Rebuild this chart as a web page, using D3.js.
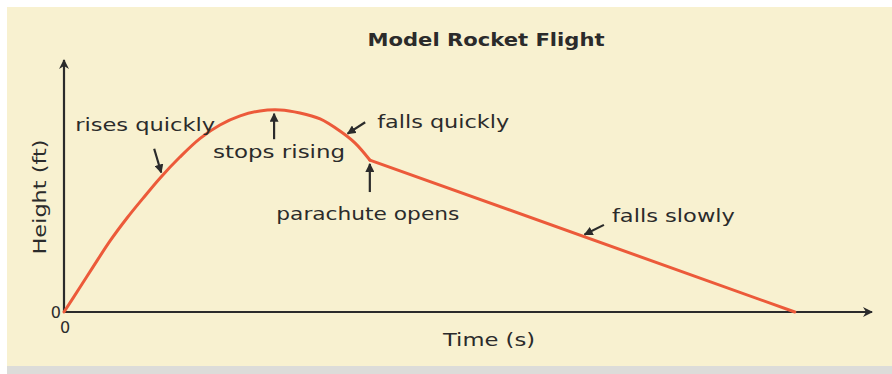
<!DOCTYPE html>
<html>
<head>
<meta charset="utf-8">
<script src="https://cdn.jsdelivr.net/npm/d3@7"></script>
<style>
  body { margin: 0; background: #ffffff; }
  svg text { font-family: "Comic Sans MS", "DejaVu Sans", sans-serif; fill: #2b2b2b; }
</style>
</head>
<body>
<svg id="chart"></svg>
<script>
// flight profile (time in s, height in ft, arbitrary units)
const times = [0, 0.40, 0.72, 1.14, 1.56, 1.96, 2.38, 2.87, 3.37, 3.86, 4.36, 4.85, 5.35, 5.84, 6.34, 6.83, 7.20, 7.57, 18.09];
const heights = [0, 9.9, 17.9, 28.2, 37.3, 45.2, 53.2, 61.5, 68.9, 74.2, 77.8, 79.8, 80.2, 79.0, 76.6, 71.8, 67.1, 60.3, 0];
const parachuteIndex = 17;

const title = "Model Rocket Flight";
const xLabel = "Time (s)";
const yLabel = "Height (ft)";

// annotation labels and the time on the curve each one points at
const noteLabels = ["rises quickly", "stops rising", "falls quickly", "parachute opens", "falls slowly"];
const noteTimes = [2.43, 5.2, 6.96, 7.57, 12.82];

const width = 892;
const height = 374;
const margin = { top: 60, right: 20, bottom: 62, left: 64 };

// offsets of the arrow tail and text from the point on the curve
const noteLayout = [
  { dx: -8, dy: -27, tx: -87, ty: -45, anchor: "start", len: 140 },
  { dx: 0, dy: 29, tx: 5, ty: 48, anchor: "middle", len: 132 },
  { dx: 20, dy: -13, tx: 32, ty: -7, anchor: "start", len: 132 },
  { dx: 0, dy: 32, tx: -2, ty: 60, anchor: "middle", len: 183 },
  { dx: 22, dy: -11, tx: 30, ty: -14, anchor: "start", len: 123 }
];

const svg = d3.select("#chart").attr("width", width).attr("height", height);

// panel + shadow
svg.append("rect").attr("x", 7).attr("y", 9).attr("width", width - 7).attr("height", height - 9)
  .attr("fill", "#dcdcd9");
svg.append("rect").attr("x", 7).attr("y", 7).attr("width", width - 7).attr("height", 359)
  .attr("fill", "#f8f1d0");

const xScale = d3.scaleLinear().domain([0, 20]).range([margin.left, width - margin.right]);
const yScale = d3.scaleLinear().domain([0, 100]).range([height - margin.bottom, margin.top]);

const defs = svg.append("defs");
defs.append("marker")
  .attr("id", "axisHead")
  .attr("viewBox", "0 0 10 10")
  .attr("refX", 9).attr("refY", 5)
  .attr("markerWidth", 10).attr("markerHeight", 10)
  .attr("markerUnits", "userSpaceOnUse")
  .attr("orient", "auto")
  .append("path").attr("d", "M0,0 L10,5 L0,10 L3,5 Z").attr("fill", "#2b2b2b");
defs.append("marker")
  .attr("id", "noteHead")
  .attr("viewBox", "0 0 10 10")
  .attr("refX", 9).attr("refY", 5)
  .attr("markerWidth", 9).attr("markerHeight", 9)
  .attr("markerUnits", "userSpaceOnUse")
  .attr("orient", "auto")
  .append("path").attr("d", "M0,0 L10,5 L0,10 Z").attr("fill", "#2b2b2b");

// axes as arrows
const x0 = xScale(0), y0 = yScale(0);
svg.append("line")
  .attr("x1", x0).attr("y1", y0).attr("x2", x0).attr("y2", yScale(100))
  .attr("stroke", "#2b2b2b").attr("stroke-width", 2.2)
  .attr("marker-end", "url(#axisHead)");
svg.append("line")
  .attr("x1", x0).attr("y1", y0).attr("x2", xScale(20)).attr("y2", y0)
  .attr("stroke", "#2b2b2b").attr("stroke-width", 2.2)
  .attr("marker-end", "url(#axisHead)");

svg.append("text").attr("x", x0 - 3).attr("y", y0 + 6)
  .attr("text-anchor", "end").attr("font-size", 16).text("0");
svg.append("text").attr("x", x0 + 1).attr("y", y0 + 21)
  .attr("text-anchor", "middle").attr("font-size", 16).text("0");

// curve: powered arc is smooth, parachute descent is straight
const points = times.map((t, i) => [t, heights[i]]);
const arc = d3.line()
  .x((d) => xScale(d[0]))
  .y((d) => yScale(d[1]))
  .curve(d3.curveCatmullRom.alpha(0.5));
const straight = d3.line()
  .x((d) => xScale(d[0]))
  .y((d) => yScale(d[1]));

const flight = svg.append("g")
  .attr("fill", "none")
  .attr("stroke", "#ec5a3a")
  .attr("stroke-width", 3)
  .attr("stroke-linejoin", "round")
  .attr("stroke-linecap", "round");
flight.append("path").attr("d", arc(points.slice(0, parachuteIndex + 1)));
flight.append("path").attr("d", straight(points.slice(parachuteIndex)));

// annotations
const lookup = d3.scaleLinear().domain(times).range(heights);
noteLabels.forEach((label, i) => {
  const px = xScale(noteTimes[i]);
  const py = yScale(lookup(noteTimes[i]));
  const lay = noteLayout[i];
  svg.append("line")
    .attr("x1", px + lay.dx).attr("y1", py + lay.dy)
    .attr("x2", px + lay.dx * 0.12).attr("y2", py + lay.dy * 0.12)
    .attr("stroke", "#2b2b2b").attr("stroke-width", 2.2)
    .attr("marker-end", "url(#noteHead)");
  svg.append("text")
    .attr("x", px + lay.tx).attr("y", py + lay.ty)
    .attr("text-anchor", lay.anchor)
    .attr("font-size", 18)
    .attr("textLength", lay.len)
    .attr("lengthAdjust", "spacingAndGlyphs")
    .text(label);
});

// titles
svg.append("text")
  .attr("x", 486).attr("y", 46)
  .attr("text-anchor", "middle")
  .attr("font-size", 17).attr("font-weight", "bold")
  .attr("textLength", 237).attr("lengthAdjust", "spacingAndGlyphs")
  .text(title);

svg.append("text")
  .attr("x", 489)
  .attr("y", y0 + 34)
  .attr("text-anchor", "middle")
  .attr("font-size", 18)
  .attr("textLength", 92).attr("lengthAdjust", "spacingAndGlyphs")
  .text(xLabel);

svg.append("text")
  .attr("transform", `translate(46, 197) rotate(-90)`)
  .attr("text-anchor", "middle")
  .attr("font-size", 18)
  .attr("textLength", 115).attr("lengthAdjust", "spacingAndGlyphs")
  .text(yLabel);
</script>
</body>
</html>
